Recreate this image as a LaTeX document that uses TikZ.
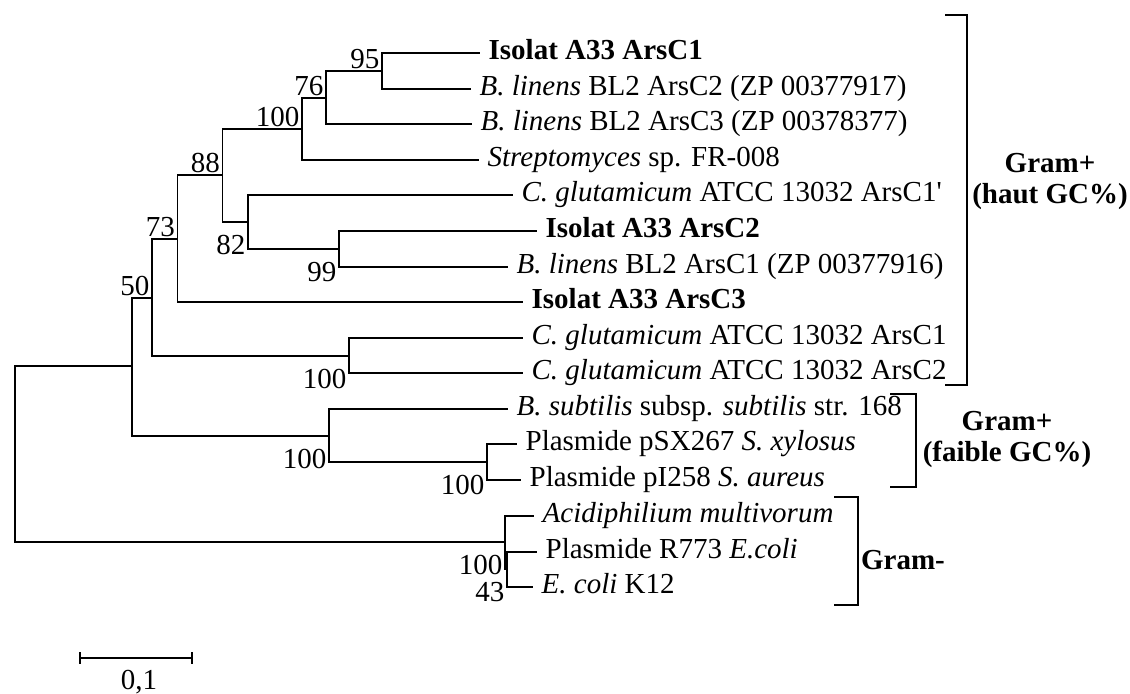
\documentclass[tikz,border=0pt]{standalone}
\usepackage{fontspec}
\setmainfont{Liberation Serif}[Ligatures=TeXOff]
\usetikzlibrary{calc}

\tikzset{
  leaf/.style={anchor=west, inner xsep=4pt, inner ysep=0pt, text height=0.6em, text depth=0pt},
  bsup/.style={anchor=south east, inner sep=1pt},
  bsdown/.style={anchor=north east, inner sep=1pt, yshift=-5.5pt},
  group/.style={font=\fontsize{14.5}{15.5}\selectfont\bfseries, align=center},
  bracket/.style={line width=1.1pt},
}

\begin{document}
\begin{tikzpicture}[x=0.5pt, y=-0.5pt, line width=0.65pt, font=\fontsize{14.5}{17}\selectfont]

        \useasboundingbox (0,0) rectangle (1130,693);

        % Splits of the tree (x of the split, y of the branch coming in)
        \coordinate (root) at (15,454);
        \coordinate (nA) at (132,366);
        \coordinate (n50) at (152,298);
        \coordinate (n73) at (177.5,239);
        \coordinate (n88) at (222.5,175);
        \coordinate (n100a) at (302,129);
        \coordinate (n76) at (326,98);
        \coordinate (n95) at (382,71);
        \coordinate (n82) at (248,222);
        \coordinate (n99) at (339,249);
        \coordinate (nCg) at (349,356);
        \coordinate (nBs) at (329,436);
        \coordinate (nPl) at (487,462);
        \coordinate (nGm) at (505,542);
        \coordinate (n43) at (507,569);

        % Sequences
        \node[leaf] (l1) at (480,53) {\textbf{Isolat A33 ArsC1}};
        \node[leaf] (l2) at (471,89) {\textit{B. linens} BL2 ArsC2 (ZP 00377917)};
        \node[leaf] (l3) at (472,124) {\textit{B. linens} BL2 ArsC3 (ZP 00378377)};
        \node[leaf] (l4) at (479,160) {\textit{Streptomyces} sp. FR-008};
        \node[leaf] (l5) at (513,195) {\textit{C. glutamicum} ATCC 13032 ArsC1'};
        \node[leaf] (l6) at (537,231) {\textbf{Isolat A33 ArsC2}};
        \node[leaf] (l7) at (508,267) {\textit{B. linens} BL2 ArsC1 (ZP 00377916)};
        \node[leaf] (l8) at (523,302) {\textbf{Isolat A33 ArsC3}};
        \node[leaf] (l9) at (523,338) {\textit{C. glutamicum} ATCC 13032 ArsC1};
        \node[leaf] (l10) at (523,373) {\textit{C. glutamicum} ATCC 13032 ArsC2};
        \node[leaf] (l11) at (508,409) {\textit{B. subtilis} subsp. \textit{subtilis} str. 168};
        \node[leaf] (l12) at (517,444) {Plasmide pSX267 \textit{S. xylosus}};
        \node[leaf] (l13) at (521,480) {Plasmide pI258 \textit{S. aureus}};
        \node[leaf] (l14) at (534,516) {\textit{Acidiphilium multivorum}};
        \node[leaf] (l15) at (537,552) {Plasmide R773 \textit{E.coli}};
        \node[leaf] (l16) at (533,587) {\textit{E. coli} K12};

        % Branches
        \draw (root) |- (nA) (root) |- (nGm);
        \draw (nA) |- (n50) (nA) |- (nBs);
        \draw (n50) |- (n73) (n50) |- (nCg);
        \draw (n73) |- (n88) (n73) |- (l8.west);
        \draw (n88) |- (n100a) (n88) |- (n82);
        \draw (n100a) |- (n76) (n100a) |- (l4.west);
        \draw (n76) |- (n95) (n76) |- (l3.west);
        \draw (n95) |- (l1.west) (n95) |- (l2.west);
        \draw (n82) |- (l5.west) (n82) |- (n99);
        \draw (n99) |- (l6.west) (n99) |- (l7.west);
        \draw (nCg) |- (l9.west) (nCg) |- (l10.west);
        \draw (nBs) |- (l11.west) (nBs) |- (nPl);
        \draw (nPl) |- (l12.west) (nPl) |- (l13.west);
        \draw (nGm) |- (l14.west) (nGm) |- (n43);
        \draw (n43) |- (l15.west) (n43) |- (l16.west);

        % Bootstrap values
        \node[bsup] (b95) at (n95) {95};
        \node[bsup] (b76) at (n76) {76};
        \node[bsup] (b100a) at (n100a) {100};
        \node[bsup] (b88) at (n88) {88};
        \node[bsup] (b73) at (n73) {73};
        \node[bsup] (b50) at (n50) {50};
        \node[bsdown] (b82) at (n82) {82};
        \node[bsdown] (b99) at (n99) {99};
        \node[bsdown] (bCg) at (nCg) {100};
        \node[bsdown] (bBs) at (nBs) {100};
        \node[bsdown] (bPl) at (nPl) {100};
        \node[bsdown] (bGm) at (nGm) {100};
        \node[bsdown] (b43) at (n43) {43};

        % Groups
        \draw[bracket] (945,15) -| (967,385) -- (945,385);
        \draw[bracket] (890,394) -| (916,487) -- (890,487);
        \draw[bracket] (834,497) -| (858,605) -- (834,605);
        \node[group] (gHigh) at (1050,181) {Gram+\\(haut GC\%)};
        \node[group] (gLow) at (1007,439) {Gram+\\(faible GC\%)};
        \node[group] (gNeg) at (903,560) {Gram-};

        % Scale bar
        \coordinate (sbL) at (80,658);
        \coordinate (sbR) at (192,658);
        \draw (sbL) -- (sbR);
        \draw ($(sbL)+(0,-6)$) -- ($(sbL)+(0,6)$);
        \draw ($(sbR)+(0,-6)$) -- ($(sbR)+(0,6)$);
        \node (sbText) at (139,682) {0,1};

      \end{tikzpicture}
\end{document}
